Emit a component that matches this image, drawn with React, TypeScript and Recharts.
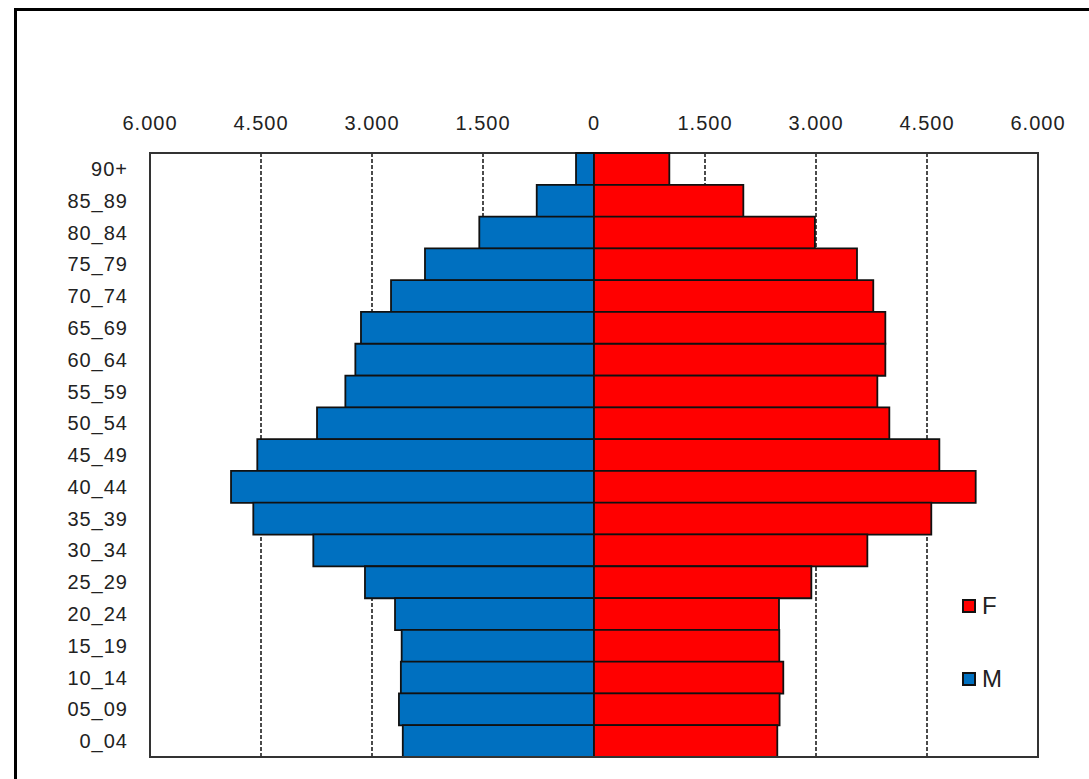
import { BarChart, Bar, XAxis, YAxis, CartesianGrid, ReferenceArea, Legend } from "recharts"

// age groups, top of the pyramid first
const ageGroups = [
  "90+", "85_89", "80_84", "75_79", "70_74", "65_69", "60_64", "55_59", "50_54", "45_49",
  "40_44", "35_39", "30_34", "25_29", "20_24", "15_19", "10_14", "05_09", "0_04",
]
const male = [243, 774, 1550, 2284, 2743, 3149, 3225, 3360, 3743, 4550, 4905, 4604, 3793, 3095, 2689, 2599, 2610, 2636, 2584]
const female = [1018, 2018, 2985, 3554, 3774, 3937, 3937, 3829, 3991, 4667, 5158, 4558, 3694, 2937, 2500, 2504, 2558, 2508, 2477]
const xTicks = [-6000, -4500, -3000, -1500, 0, 1500, 3000, 4500, 6000]

const series = [
  { key: "f", name: "F", color: "#FF0000" },
  { key: "m", name: "M", color: "#0070C0" },
]

const data = ageGroups.map((age, i) => ({ age, m: -male[i], f: female[i] }))

const font = "'Liberation Sans', Arial, sans-serif"
const tickStyle = { fontSize: 20, fill: "#222", fontFamily: font, letterSpacing: 1 }

const fmt = (v: number) => String(Math.abs(v)).replace(/\B(?=(\d{3})+(?!\d))/g, ".")

const renderLegend = () => (
  <div style={{ fontFamily: font, fontSize: 24, color: "#222" }}>
    {series.map((s, i) => (
      <div key={s.key} style={{ display: "flex", alignItems: "center", height: 28, marginTop: i ? 45 : 0 }}>
        <span
          style={{
            display: "inline-block",
            width: 10,
            height: 10,
            background: s.color,
            border: "2px solid #111",
            marginRight: 6,
          }}
        />
        <span>{s.name}</span>
      </div>
    ))}
  </div>
)

export default function App() {
  return (
    <div style={{ position: "absolute", left: 0, top: 0, width: 1089, height: 779, overflow: "hidden", background: "#fff" }}>
      <div
        style={{
          position: "absolute",
          left: 14,
          top: 8,
          width: 1200,
          height: 1000,
          border: "3px solid #000",
        }}
      />
      <div style={{ position: "absolute", left: 0, top: 0 }}>
        <BarChart
          width={1089}
          height={779}
          data={data}
          layout="vertical"
          stackOffset="sign"
          barCategoryGap={0}
          margin={{ top: 123, right: 51, left: 60, bottom: 12 }}
        >
          <CartesianGrid xAxisId="top" horizontal={false} stroke="#111" strokeWidth={1.5} strokeDasharray="4 2" />
          <XAxis
            xAxisId="top"
            orientation="top"
            type="number"
            domain={[-6000, 6000]}
            ticks={xTicks}
            tickFormatter={fmt}
            axisLine={false}
            tickLine={false}
            tickSize={0}
            tickMargin={23}
            height={30}
            tick={tickStyle}
            interval={0}
          />
          <XAxis
            xAxisId="bottom"
            orientation="bottom"
            type="number"
            domain={[-6000, 6000]}
            ticks={xTicks}
            tick={false}
            tickSize={7}
            axisLine={{ stroke: "#333", strokeWidth: 2 }}
            tickLine={{ stroke: "#333", strokeWidth: 2 }}
            height={10}
            interval={0}
          />
          <YAxis
            type="category"
            dataKey="age"
            width={90}
            axisLine={false}
            tickLine={false}
            tickSize={0}
            tickMargin={22}
            tick={tickStyle}
            interval={0}
          />
          <ReferenceArea xAxisId="top" x1={-6000} x2={6000} fill="none" stroke="#333" strokeWidth={2} />
          <Bar xAxisId="top" dataKey="m" name="M" stackId="pop" fill="#0070C0" stroke="#111" strokeWidth={1.8} isAnimationActive={false} />
          <Bar xAxisId="top" dataKey="f" name="F" stackId="pop" fill="#FF0000" stroke="#111" strokeWidth={1.8} isAnimationActive={false} />
          <Legend
            layout="vertical"
            align="center"
            verticalAlign="middle"
            content={renderLegend}
            wrapperStyle={{ left: 962, top: 592, width: "auto", height: "auto" }}
          />
        </BarChart>
      </div>
    </div>
  )
}
